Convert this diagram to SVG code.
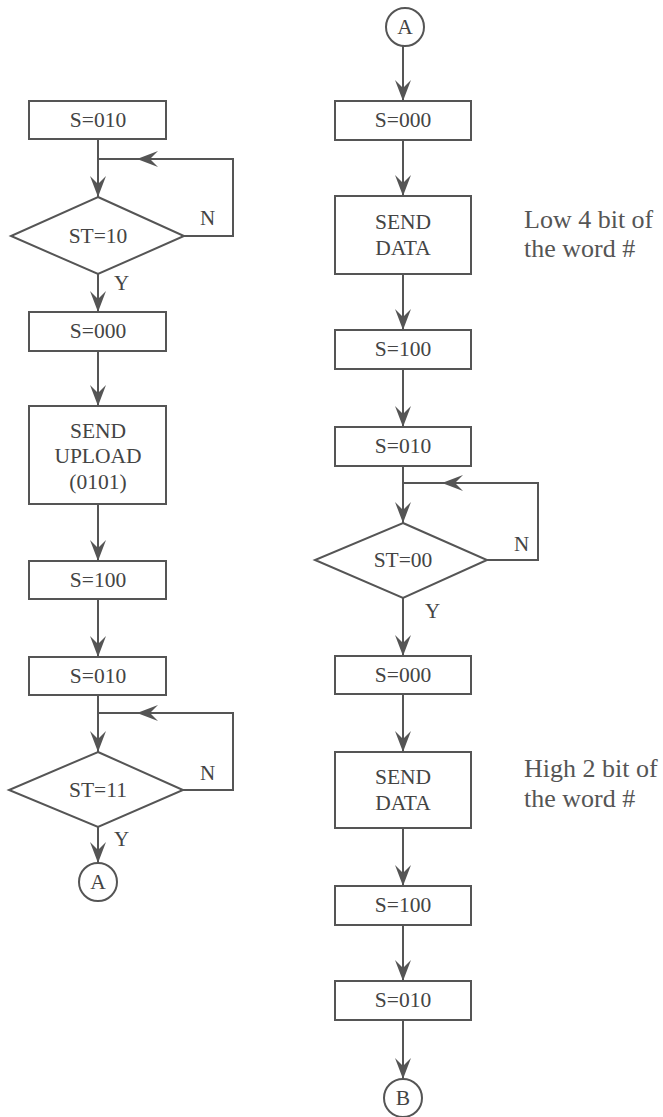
<svg xmlns="http://www.w3.org/2000/svg" width="663" height="1117" viewBox="0 0 663 1117">
<style>
.box{fill:#fff;stroke:#555;stroke-width:2}
.dia{fill:#fff;stroke:#555;stroke-width:2}
.cir{fill:#fff;stroke:#555;stroke-width:2}
.ln{fill:none;stroke:#555;stroke-width:2}
.t{font-family:"Liberation Serif","Times New Roman",serif;font-size:21.5px;fill:#444;text-anchor:middle;dominant-baseline:central}
.lbl{font-family:"Liberation Serif","Times New Roman",serif;font-size:21px;fill:#444;dominant-baseline:central}
.ann{font-family:"Liberation Serif","Times New Roman",serif;font-size:26px;fill:#555}
</style>
<defs>
<marker id="arr" markerUnits="userSpaceOnUse" markerWidth="22" markerHeight="18" refX="0" refY="0" orient="auto" overflow="visible" viewBox="-21 -9 22 18">
<path d="M0,0 L-21,-8 L-13,0 L-21,8 Z" fill="#555"/>
</marker>
</defs>
<rect width="663" height="1117" fill="#fff"/>

<g id="connectors">
<!-- left column -->
<path class="ln" d="M98,139 V197" marker-end="url(#arr)"/>
<path class="ln" d="M184,236 H233 V159 H137" marker-end="url(#arr)"/>
<path class="ln" d="M137,159 H98"/>
<path class="ln" d="M98,274 V312" marker-end="url(#arr)"/>
<path class="ln" d="M98,351 V406" marker-end="url(#arr)"/>
<path class="ln" d="M98,504 V561" marker-end="url(#arr)"/>
<path class="ln" d="M98,599 V657" marker-end="url(#arr)"/>
<path class="ln" d="M98,695 V752" marker-end="url(#arr)"/>
<path class="ln" d="M183,790 H233 V713 H137" marker-end="url(#arr)"/>
<path class="ln" d="M137,713 H98"/>
<path class="ln" d="M98,827 V863" marker-end="url(#arr)"/>
<!-- right column -->
<path class="ln" d="M403,46 V101" marker-end="url(#arr)"/>
<path class="ln" d="M403,140 V196" marker-end="url(#arr)"/>
<path class="ln" d="M403,274 V330" marker-end="url(#arr)"/>
<path class="ln" d="M403,369 V427" marker-end="url(#arr)"/>
<path class="ln" d="M403,466 V523" marker-end="url(#arr)"/>
<path class="ln" d="M487,560 H538 V483 H442" marker-end="url(#arr)"/>
<path class="ln" d="M442,483 H403"/>
<path class="ln" d="M403,598 V656" marker-end="url(#arr)"/>
<path class="ln" d="M403,694 V752" marker-end="url(#arr)"/>
<path class="ln" d="M403,828 V886" marker-end="url(#arr)"/>
<path class="ln" d="M403,925 V981" marker-end="url(#arr)"/>
<path class="ln" d="M403,1020 V1079" marker-end="url(#arr)"/>
<text class="lbl" x="200" y="218">N</text>
<text class="lbl" x="114" y="283">Y</text>
<text class="lbl" x="200" y="773">N</text>
<text class="lbl" x="114" y="839">Y</text>
<text class="lbl" x="514" y="544">N</text>
<text class="lbl" x="425" y="611">Y</text>
</g>

<!-- left column nodes -->
<g id="L1"><rect class="box" x="29" y="101" width="137" height="38"/><text class="t" x="98" y="120">S=010</text></g>
<g id="L2"><polygon class="dia" points="98,197 184,236 98,274 11,236"/><text class="t" x="98" y="236">ST=10</text></g>
<g id="L3"><rect class="box" x="29" y="312" width="137" height="39"/><text class="t" x="98" y="331">S=000</text></g>
<g id="L4"><rect class="box" x="29" y="406" width="137" height="98"/><text class="t" x="98" y="431">SEND</text><text class="t" x="98" y="456">UPLOAD</text><text class="t" x="98" y="482">(0101)</text></g>
<g id="L5"><rect class="box" x="29" y="561" width="137" height="38"/><text class="t" x="98" y="580">S=100</text></g>
<g id="L6"><rect class="box" x="29" y="657" width="137" height="38"/><text class="t" x="98" y="676">S=010</text></g>
<g id="L7"><polygon class="dia" points="98,752 183,790 98,827 9,790"/><text class="t" x="98" y="790">ST=11</text></g>
<g id="L8"><circle class="cir" cx="98" cy="882" r="19"/><text class="t" x="98" y="882">A</text></g>

<!-- right column nodes -->
<g id="R0"><circle class="cir" cx="405" cy="27" r="19"/><text class="t" x="405" y="27">A</text></g>
<g id="R1"><rect class="box" x="335" y="101" width="136" height="39"/><text class="t" x="403" y="120">S=000</text></g>
<g id="R2"><rect class="box" x="335" y="196" width="136" height="78"/><text class="t" x="403" y="222">SEND</text><text class="t" x="403" y="248">DATA</text></g>
<g id="R3"><rect class="box" x="335" y="330" width="136" height="39"/><text class="t" x="403" y="349">S=100</text></g>
<g id="R4"><rect class="box" x="335" y="427" width="136" height="39"/><text class="t" x="403" y="446">S=010</text></g>
<g id="R5"><polygon class="dia" points="403,523 487,560 403,598 315,560"/><text class="t" x="403" y="560">ST=00</text></g>
<g id="R6"><rect class="box" x="335" y="656" width="136" height="38"/><text class="t" x="403" y="675">S=000</text></g>
<g id="R7"><rect class="box" x="335" y="752" width="136" height="76"/><text class="t" x="403" y="777">SEND</text><text class="t" x="403" y="803">DATA</text></g>
<g id="R8"><rect class="box" x="335" y="886" width="136" height="39"/><text class="t" x="403" y="905">S=100</text></g>
<g id="R9"><rect class="box" x="335" y="981" width="136" height="39"/><text class="t" x="403" y="1000">S=010</text></g>
<g id="R10"><circle class="cir" cx="403" cy="1098" r="19"/><text class="t" x="403" y="1098">B</text></g>

<g id="annotations">
<text class="ann" x="524" y="228">Low 4 bit of</text>
<text class="ann" x="524" y="257">the word #</text>
<text class="ann" x="524" y="777">High 2 bit of</text>
<text class="ann" x="524" y="807">the word #</text>
</g>
</svg>
